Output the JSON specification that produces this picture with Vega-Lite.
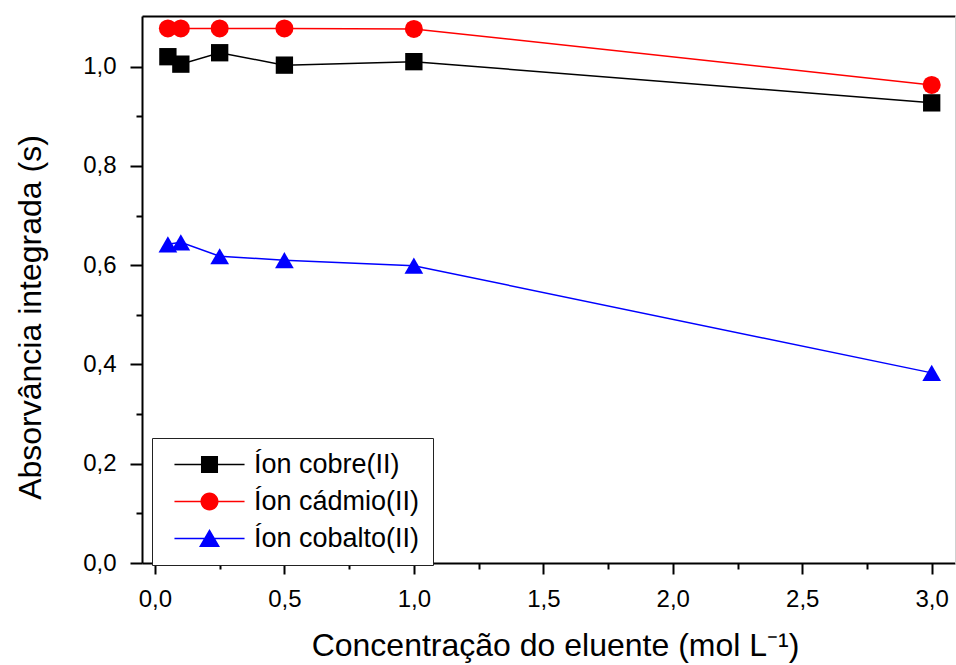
{
  "$schema": "https://vega.github.io/schema/vega-lite/v6.json",
  "width": 813,
  "height": 547,
  "autosize": {"type": "none"},
  "padding": {"left": 142, "top": 16, "right": 1, "bottom": 102},
  "background": "white",
  "config": {"view": {"stroke": null}, "font": "Liberation Sans"},
  "data": {
    "values": [
      {"conc": 0.05, "abs": 1.020, "series": "Íon cobre(II)"},
      {"conc": 0.1, "abs": 1.005, "series": "Íon cobre(II)"},
      {"conc": 0.25, "abs": 1.028, "series": "Íon cobre(II)"},
      {"conc": 0.5, "abs": 1.003, "series": "Íon cobre(II)"},
      {"conc": 1.0, "abs": 1.010, "series": "Íon cobre(II)"},
      {"conc": 3.0, "abs": 0.927, "series": "Íon cobre(II)"},
      {"conc": 0.05, "abs": 1.077, "series": "Íon cádmio(II)"},
      {"conc": 0.1, "abs": 1.077, "series": "Íon cádmio(II)"},
      {"conc": 0.25, "abs": 1.077, "series": "Íon cádmio(II)"},
      {"conc": 0.5, "abs": 1.077, "series": "Íon cádmio(II)"},
      {"conc": 1.0, "abs": 1.076, "series": "Íon cádmio(II)"},
      {"conc": 3.0, "abs": 0.963, "series": "Íon cádmio(II)"},
      {"conc": 0.05, "abs": 0.642, "series": "Íon cobalto(II)"},
      {"conc": 0.1, "abs": 0.646, "series": "Íon cobalto(II)"},
      {"conc": 0.25, "abs": 0.618, "series": "Íon cobalto(II)"},
      {"conc": 0.5, "abs": 0.610, "series": "Íon cobalto(II)"},
      {"conc": 1.0, "abs": 0.599, "series": "Íon cobalto(II)"},
      {"conc": 3.0, "abs": 0.383, "series": "Íon cobalto(II)"}
    ]
  },
  "layer": [
    {
      "mark": {"type": "line", "strokeWidth": 1.5},
      "encoding": {
        "x": {
          "field": "conc", "type": "quantitative",
          "scale": {"domain": [-0.05, 3.09], "nice": false, "zero": false},
          "axis": {
            "orient": "bottom",
            "values": [0, 0.25, 0.5, 0.75, 1, 1.25, 1.5, 1.75, 2, 2.25, 2.5, 2.75, 3],
            "labelExpr": "round(datum.value*4)%2==0 ? replace(format(datum.value,'.1f'),'.',',') : ''",
            "labelFontSize": 24, "labelColor": "black", "labelFont": "Liberation Sans",
            "labelPadding": 13, "labelOverlap": false, "labelFlush": false,
            "domainColor": "black", "domainWidth": 2,
            "tickColor": "black", "tickWidth": 2,
            "tickSize": {"condition": {"test": "round(datum.value*4)%2==0", "value": 11}, "value": 6},
            "grid": false,
            "title": "Concentração do eluente (mol L⁻¹)",
            "titleFont": "Liberation Sans", "titleFontSize": 32, "titleFontWeight": "normal",
            "titleColor": "black", "titleX": 413, "titleY": 92, "titleBaseline": "alphabetic", "titleAlign": "center"
          }
        },
        "y": {
          "field": "abs", "type": "quantitative",
          "scale": {"domain": [0, 1.102], "nice": false, "zero": false},
          "axis": {
            "orient": "left",
            "values": [0, 0.1, 0.2, 0.3, 0.4, 0.5, 0.6, 0.7, 0.8, 0.9, 1.0],
            "labelExpr": "round(datum.value*10)%2==0 ? replace(format(datum.value,'.1f'),'.',',') : ''",
            "labelFontSize": 24, "labelColor": "black", "labelFont": "Liberation Sans",
            "labelPadding": 14, "labelOverlap": false, "labelFlush": false,
            "domainColor": "black", "domainWidth": 2,
            "tickColor": "black", "tickWidth": 2,
            "tickSize": {"condition": {"test": "round(datum.value*10)%2==0", "value": 12}, "value": 6},
            "grid": false,
            "title": "Absorvância integrada (s)",
            "titleFont": "Liberation Sans", "titleFontSize": 32, "titleFontWeight": "normal",
            "titleColor": "black", "titleX": -102, "titleY": 301, "titleAngle": -90,
            "titleBaseline": "alphabetic", "titleAlign": "center"
          }
        },
        "stroke": {
          "field": "series", "type": "nominal",
          "scale": {"domain": ["Íon cobre(II)", "Íon cádmio(II)", "Íon cobalto(II)"], "range": ["#000000", "#ff0000", "#0000ff"]},
          "legend": null
        }
      }
    },
    {
      "mark": {"type": "point", "filled": true, "opacity": 1, "strokeWidth": 0},
      "encoding": {
        "x": {"field": "conc", "type": "quantitative", "axis": null},
        "y": {"field": "abs", "type": "quantitative", "axis": null},
        "fill": {
          "field": "series", "type": "nominal",
          "scale": {"domain": ["Íon cobre(II)", "Íon cádmio(II)", "Íon cobalto(II)"], "range": ["#000000", "#ff0000", "#0000ff"]},
          "legend": null
        },
        "shape": {
          "field": "series", "type": "nominal",
          "scale": {"domain": ["Íon cobre(II)", "Íon cádmio(II)", "Íon cobalto(II)"], "range": ["square", "circle", "triangle-up"]},
          "legend": null
        },
        "size": {
          "field": "series", "type": "nominal",
          "scale": {"domain": ["Íon cobre(II)", "Íon cádmio(II)", "Íon cobalto(II)"], "range": [300, 350, 440]},
          "legend": null
        }
      }
    },
    {
      "mark": {"type": "point", "filled": true, "opacity": 0},
      "encoding": {
        "x": {
          "field": "conc", "type": "quantitative",
          "axis": {"orient": "top", "domainColor": "black", "domainWidth": 2, "ticks": false, "labels": false, "title": null, "grid": false}
        },
        "y": {
          "field": "abs", "type": "quantitative",
          "axis": {"orient": "right", "domainColor": "#d0d0d0", "domainWidth": 1, "ticks": false, "labels": false, "title": null, "grid": false}
        },
        "color": {
          "field": "series", "type": "nominal",
          "scale": {"domain": ["Íon cobre(II)", "Íon cádmio(II)", "Íon cobalto(II)"], "range": ["#000000", "#ff0000", "#0000ff"]},
          "legend": {
            "orient": "none", "legendX": 10, "legendY": 422,
            "title": null,
            "strokeColor": "#222222", "fillColor": "white",
            "padding": 13, "rowPadding": 9,
            "symbolSize": 576, "symbolOffset": 31, "labelOffset": 31,
            "symbolOpacity": 1, "symbolStrokeWidth": 0,
            "labelFontSize": 27, "labelFont": "Liberation Sans", "labelColor": "black", "labelLimit": 400
          }
        },
        "shape": {
          "field": "series", "type": "nominal",
          "scale": {
            "domain": ["Íon cobre(II)", "Íon cádmio(II)", "Íon cobalto(II)"],
            "range": [
              "M-2.92,-0.055H2.92V0.055H-2.92Z M-0.71,-0.71H0.71V0.71H-0.71Z",
              "M-2.92,-0.055H2.92V0.055H-2.92Z M-0.75,0A0.75,0.75,0,1,1,0.75,0A0.75,0.75,0,1,1,-0.75,0Z",
              "M-2.92,-0.055H2.92V0.055H-2.92Z M0,-0.8L0.875,0.7L-0.875,0.7Z"
            ]
          },
          "legend": {
            "orient": "none", "legendX": 10, "legendY": 422,
            "title": null,
            "strokeColor": "#222222", "fillColor": "white",
            "padding": 13, "rowPadding": 9,
            "symbolSize": 576, "symbolOffset": 31, "labelOffset": 31,
            "symbolOpacity": 1, "symbolStrokeWidth": 0,
            "labelFontSize": 27, "labelFont": "Liberation Sans", "labelColor": "black", "labelLimit": 400
          }
        }
      }
    }
  ],
  "resolve": {
    "axis": {"x": "independent", "y": "independent"},
    "scale": {"shape": "independent", "size": "independent", "color": "independent"}
  }
}
